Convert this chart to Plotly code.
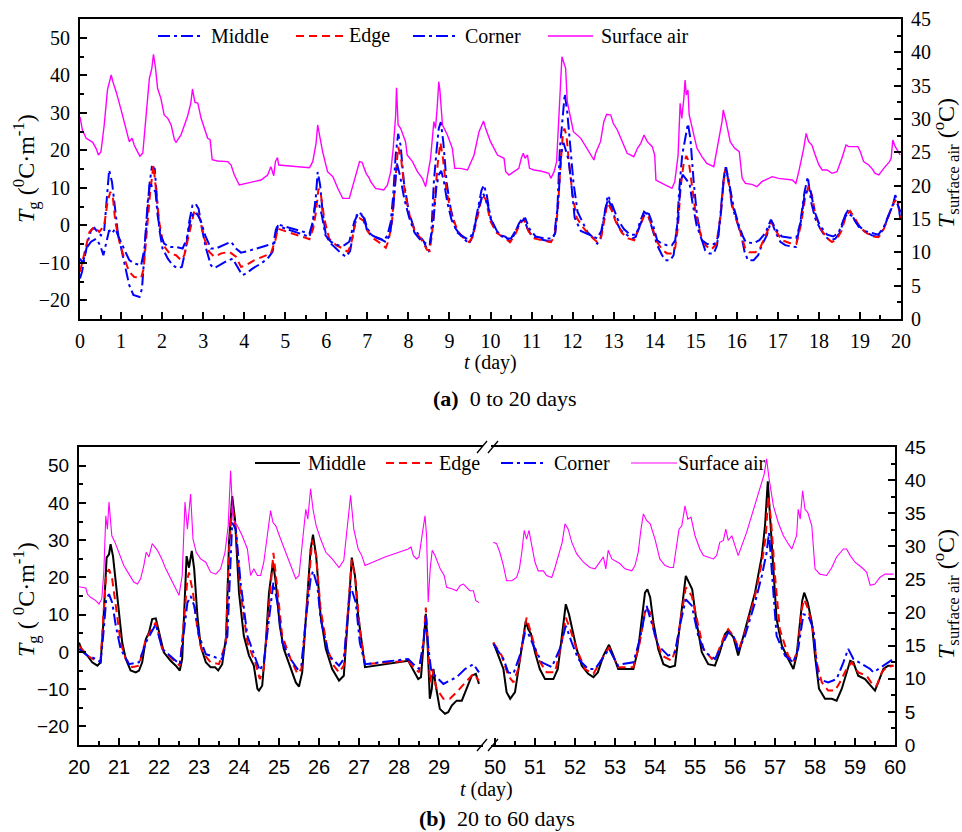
import plotly.graph_objects as go

# ---------------- data: panel (a) 0-20 days (t [day], value) ----------------
a_middle = [(0,-14.2),(0.05,-12.4),(0.1,-9.3),(0.19,-4.4),(0.27,-1.3),(0.35,-0.7),(0.43,-1.8),(0.51,-2.7),(0.59,-1.3),
 (0.65,8.0),(0.71,14.7),(0.78,11.5),(0.84,5.3),(0.92,-1.8),(1.04,-8.0),(1.12,-12.0),(1.20,-16.0),(1.30,-18.6),(1.45,-19.1),
 (1.51,-16.9),(1.57,-8.0),(1.62,0.9),(1.69,10.7),(1.75,15.5),(1.82,15.1),(1.87,8.0),(1.93,-0.9),(2.01,-6.2),(2.14,-8.9),
 (2.26,-10.7),(2.38,-11.5),(2.48,-11.1),(2.58,-6.2),(2.66,0.9),(2.74,5.3),(2.81,5.8),(2.89,4.4),(2.97,-0.9),(3.07,-6.2),
 (3.19,-10.7),(3.27,-11.4),(3.39,-10.7),(3.56,-9.6),(3.72,-8.9),(3.84,-11.1),(3.95,-13.3),(4.04,-12.9),(4.21,-11.5),
 (4.41,-10.2),(4.57,-8.9),(4.69,-7.1),(4.77,-2.7),(4.82,-0.2),(5.59,-3.1),(5.67,0.0),(5.73,5.3),(5.79,14.2),(5.85,10.7),
 (5.91,3.6),(5.99,-2.7),(6.11,-4.9),(6.24,-6.2),(6.36,-7.5),(6.48,-8.4),(6.58,-6.9),(6.66,-1.8),(6.74,2.7),(6.82,3.1),
 (6.93,1.8),(7.0,-0.9),(7.12,-2.7),(7.28,-3.6),(7.41,-4.0),(7.49,-2.7),(7.57,0.9),(7.63,8.0),(7.69,18.7),(7.75,24.4),
 (7.81,21.3),(7.89,11.5),(8.01,3.6),(8.14,-0.9),(8.26,-2.7),(8.38,-4.4),(8.46,-6.7),(8.5,-7.1),(8.56,-1.8),(8.62,11.5),
 (8.69,20.4),(8.74,25.8),(8.79,27.5),(8.85,22.2),(8.93,11.5),(9.03,4.4),(9.15,-0.9),(9.27,-2.7),(9.39,-4.0),(9.48,-4.9),
 (9.56,-3.1),(9.68,3.6),(9.78,9.3),(9.84,10.7),(9.91,8.0),(10.0,1.8),(10.13,-1.3),(10.25,-2.7),(10.37,-3.1),(10.47,-4.4),
 (10.57,-2.7),(10.69,0.4),(10.80,2.2),(10.90,-0.9),(11.02,-3.1),(11.18,-3.6),(11.34,-4.0),(11.47,-4.4),(11.55,-2.7),
 (11.63,4.4),(11.69,20.4),(11.76,30.2),(11.81,35.1),(11.87,30.2),(11.94,22.2),(12.02,11.5),(12.12,3.6),(12.24,0.9),
 (12.36,-1.8),(12.48,-3.1),(12.60,-4.9),(12.68,-3.6),(12.78,2.7),(12.85,7.5),(12.93,5.3),(13.05,1.3),(13.17,-1.3),
 (13.33,-2.7),(13.45,-3.6),(13.54,-3.1),(13.64,0.9),(13.74,3.6),(13.84,2.7),(13.94,-0.9),(14.06,-5.3),(14.18,-8.0),
 (14.26,-9.3),(14.38,-9.3),(14.46,-8.0),(14.54,-0.9),(14.6,9.8),(14.67,18.7),(14.75,24.0),(14.81,27.1),(14.87,23.1),
 (14.95,11.5),(15.03,2.7),(15.14,-3.6),(15.23,-6.7),(15.33,-7.5),(15.44,-7.5),(15.52,-5.3),(15.60,2.7),(15.67,11.5),
 (15.72,15.5),(15.79,12.4),(15.88,5.3),(16.0,0.9),(16.11,-2.7),(16.19,-7.1),(16.27,-9.3),(16.41,-9.3),(16.52,-8.0),
 (16.61,-5.3),(16.73,-2.7),(16.84,1.3),(16.94,-1.8),(17.06,-4.4),(17.18,-5.3),(17.30,-5.6),(17.44,-5.8),(17.55,0.9),
 (17.65,8.9),(17.73,12.9),(17.81,6.2),(17.91,1.8),(18.03,-0.9),(18.16,-3.1),(18.28,-4.0),(18.40,-3.6),(18.52,-1.8),
 (18.64,2.7),(18.73,4.4),(18.85,1.8),(18.97,-0.4),(19.13,-1.8),(19.29,-2.7),(19.44,-3.1),(19.58,-0.9),(19.70,2.7),
 (19.80,5.3),(19.86,8.0),(19.93,6.2),(19.99,0.9)]

a_edge = [(0,-12.4),(0.1,-7.6),(0.23,-1.8),(0.35,-0.4),(0.47,-1.8),(0.59,0.0),(0.67,6.2),(0.74,8.9),(0.80,7.5),(0.86,0.9),
 (0.96,-4.4),(1.08,-8.9),(1.20,-12.4),(1.32,-13.8),(1.49,-14.0),(1.55,-11.6),(1.62,-1.8),(1.71,8.9),(1.79,16.0),(1.85,9.8),
 (1.93,0.9),(2.03,-5.3),(2.18,-7.5),(2.34,-8.0),(2.46,-9.3),(2.54,-8.0),(2.66,-1.8),(2.79,4.0),(2.84,3.6),(2.92,1.8),
 (3.03,-3.6),(3.15,-7.1),(3.27,-8.4),(3.44,-7.5),(3.64,-7.1),(3.80,-8.4),(3.92,-11.1),(4.04,-10.7),(4.25,-9.3),(4.45,-8.4),
 (4.65,-7.5),(4.76,-4.0),(4.82,-0.9),(5.59,-3.7),(5.68,-0.9),(5.75,3.6),(5.81,9.8),(5.87,8.0),(5.95,1.8),(6.07,-3.6),
 (6.24,-5.3),(6.40,-6.2),(6.52,-7.1),(6.60,-5.3),(6.71,0.9),(6.81,1.9),(6.90,1.3),(7.0,-1.5),(7.12,-3.3),(7.28,-4.5),
 (7.45,-6.0),(7.52,-4.0),(7.6,1.0),(7.68,12),(7.75,20.9),(7.82,18),(7.9,10),(8.02,3),(8.15,-1.5),(8.3,-3.5),(8.45,-6.5),
 (8.52,-6.8),(8.58,-2),(8.65,8),(8.72,17),(8.78,22),(8.84,18),(8.93,9),(9.05,3),(9.2,-1.5),(9.35,-3.5),(9.48,-4.5),
 (9.57,-3),(9.7,3),(9.8,8),(9.88,7),(10.0,1),(10.15,-2),(10.35,-3.5),(10.48,-4.5),(10.6,-2.5),(10.72,0.5),(10.82,1.5),
 (10.92,-1.5),(11.05,-3.5),(11.3,-4),(11.47,-4.5),(11.56,-3),(11.64,4),(11.7,15),(11.76,24),(11.8,25.8),(11.85,24),
 (11.9,18),(12.0,8),(12.1,2),(12.25,-0.5),(12.4,-2.5),(12.6,-4.5),(12.7,-3),(12.78,2),(12.85,6),(12.95,4),(13.05,1),
 (13.2,-2),(13.35,-3.5),(13.5,-4),(13.64,0),(13.76,3),(13.86,2),(13.96,-1.5),(14.06,-4.5),(14.18,-6.5),(14.3,-7.5),
 (14.42,-7.5),(14.5,-6),(14.57,0),(14.63,10),(14.7,16),(14.77,18.5),(14.83,17),(14.9,11),(15.0,3),(15.12,-2.5),
 (15.25,-5.5),(15.38,-6.5),(15.5,-5),(15.6,2),(15.67,11),(15.72,15),(15.8,11.5),(15.9,5),(16.02,0.5),(16.12,-3),
 (16.2,-6),(16.3,-7.2),(16.45,-7.2),(16.55,-6.5),(16.65,-4),(16.75,-1.5),(16.85,1),(16.95,-1.5),(17.1,-4),(17.3,-4.8),
 (17.45,-5),(17.56,0),(17.66,7),(17.75,10.5),(17.83,8),(17.92,2.5),(18.05,-1),(18.2,-3.5),(18.32,-4.5),(18.45,-3.5),
 (18.55,-1.5),(18.66,2.5),(18.76,3.8),(18.88,1.8),(19.0,-0.5),(19.15,-2),(19.3,-3),(19.45,-3.2),(19.58,-1),(19.7,2.5),
 (19.82,6),(19.9,7),(19.99,2)]

a_corner = [(0,-8.9),(0.07,-10.2),(0.15,-6.2),(0.27,-4.4),(0.39,-3.6),(0.49,-5.3),(0.57,-8.0),(0.65,-3.6),(0.71,-1.3),
 (0.78,-2.2),(0.86,-0.9),(0.96,-3.6),(1.08,-6.7),(1.20,-9.3),(1.32,-10.2),(1.49,-10.7),(1.57,-6.2),(1.65,6.2),(1.71,11.5),
 (1.77,9.8),(1.84,8.9),(1.89,2.7),(1.97,-2.7),(2.05,-4.9),(2.18,-5.8),(2.34,-5.8),(2.50,-6.2),(2.6,-3.6),(2.70,1.8),
 (2.78,3.6),(2.87,2.7),(2.95,0.9),(3.05,-2.7),(3.19,-6.2),(3.31,-6.2),(3.48,-5.3),(3.68,-4.4),(3.80,-6.2),(3.92,-7.3),
 (4.08,-6.9),(4.29,-6.2),(4.45,-5.8),(4.61,-5.3),(4.71,-4.9),(4.77,-1.3),(4.82,0.2),(5.59,-2.2),(5.67,0.9),(5.73,6.2),
 (5.81,6.2),(5.89,2.7),(5.98,-2.7),(6.11,-4.4),(6.28,-5.3),(6.44,-5.3),(6.56,-4.4),(6.68,0.9),(6.79,3.4),(6.89,2.7),
 (7.0,-1.5),(7.15,-3),(7.3,-3.5),(7.45,-4.5),(7.55,-2.5),(7.62,3),(7.68,12),(7.72,16.5),(7.8,13),(7.9,7),(8.02,2),
 (8.15,-2),(8.3,-4),(8.45,-5),(8.52,-5),(8.6,0),(8.68,10),(8.74,13.5),(8.8,14.5),(8.86,12),(8.95,6),(9.05,1.5),(9.2,-2),
 (9.4,-3.5),(9.5,-3.5),(9.6,-1),(9.72,5),(9.82,8.5),(9.92,6),(10.02,1.5),(10.2,-2.5),(10.4,-3.5),(10.5,-3.5),(10.62,-1.5),
 (10.75,1),(10.85,1.8),(10.95,-1),(11.1,-3),(11.3,-3.5),(11.5,-3.5),(11.58,-2),(11.66,8),(11.72,19),(11.78,22),(11.84,20),
 (11.9,17.5),(11.96,12),(12.05,2),(12.2,-1.5),(12.4,-2.5),(12.6,-3.5),(12.7,-1.5),(12.8,4.5),(12.88,7.5),(12.98,5),
 (13.1,1.5),(13.25,-1),(13.4,-2.5),(13.55,-2.5),(13.68,1),(13.76,3.5),(13.86,3),(13.96,0),(14.06,-4),(14.18,-5),
 (14.3,-5.3),(14.42,-5.3),(14.5,-4),(14.57,2),(14.63,11),(14.68,13.5),(14.75,12.5),(14.85,11),(14.92,6),(15.02,0),
 (15.15,-4),(15.28,-5),(15.45,-5),(15.55,-3),(15.62,4),(15.68,12),(15.74,15.5),(15.82,11),(15.92,5),(16.05,0),(16.15,-3),
 (16.22,-4.5),(16.4,-4.8),(16.55,-4),(16.7,-2),(16.83,1.5),(16.95,-1),(17.1,-3),(17.3,-3.3),(17.45,-3.3),(17.56,1),
 (17.65,8),(17.72,9.5),(17.8,9),(17.9,3.5),(18.02,0),(18.2,-2.5),(18.35,-3),(18.48,-2),(18.6,1.5),(18.7,3.2),(18.8,2.5),
 (18.92,0.5),(19.1,-1.5),(19.3,-2),(19.45,-2.5),(19.58,-0.5),(19.7,3),(19.8,5.5),(19.9,6),(19.99,3.5)]

a_air = [(0,30.3),(0.06,28.3),(0.15,27.1),(0.31,26.5),(0.39,25.6),(0.45,24.6),(0.51,25.1),(0.59,29.1),(0.67,34.4),(0.71,35.6),
 (0.76,36.6),(0.80,35.6),(0.88,34.1),(1.0,31.4),(1.12,28.4),(1.20,26.6),(1.27,27.1),(1.32,26.1),(1.40,25.1),(1.46,24.4),
 (1.53,24.9),(1.61,30.6),(1.69,36.1),(1.75,37.6),(1.79,39.7),(1.84,37.6),(1.89,34.6),(1.97,33.1),(2.05,30.6),(2.14,30.1),
 (2.22,29.1),(2.30,26.9),(2.34,26.5),(2.46,27.6),(2.62,30.4),(2.70,32.4),(2.74,34.5),(2.80,32.5),(2.87,32.4),(2.95,30.1),
 (3.11,27.1),(3.17,26.9),(3.22,23.9),(3.35,23.7),(3.48,23.6),(3.60,23.6),(3.68,23.1),(3.76,21.6),(3.88,20.1),(4.04,20.35),
 (4.21,20.6),(4.41,20.85),(4.57,21.6),(4.65,22.85),(4.72,21.5),(4.76,23.6),(4.81,24.2),(4.84,23.1),(5.59,22.7),(5.67,23.6),
 (5.75,26.35),(5.79,29.1),(5.85,27.1),(5.91,25.1),(6.03,22.1),(6.16,21.35),(6.28,19.6),(6.40,18.1),(6.56,18.1),(6.68,20.6),
 (6.81,23.6),(6.87,23.5),(6.97,21.85),(7.05,21.1),(7.08,20.6),(7.20,19.6),(7.40,19.35),(7.49,20.1),(7.57,22.1),(7.63,25.6),
 (7.69,30.6),(7.71,34.7),(7.75,29.1),(7.81,28.6),(7.88,27.6),(7.93,26.6),(7.97,24.6),(8.10,23.6),(8.22,22.1),(8.34,21.1),
 (8.42,19.85),(8.54,24.1),(8.62,29.6),(8.66,28.6),(8.70,31.6),(8.74,35.6),(8.77,34.1),(8.80,30.6),(8.83,29.1),(8.95,27.6),
 (9.07,25.6),(9.13,22.6),(9.27,22.6),(9.44,22.35),(9.60,24.6),(9.72,28.1),(9.83,29.7),(9.88,28.6),(10.0,26.6),(10.17,24.6),
 (10.33,24.1),(10.37,22.1),(10.45,21.6),(10.57,22.1),(10.69,22.6),(10.75,24.1),(10.80,24.85),(10.84,24.1),(10.90,24.6),
 (10.95,22.6),(11.06,22.35),(11.22,22.2),(11.42,21.85),(11.47,21.1),(11.55,22.1),(11.61,23.6),(11.67,30.6),(11.71,36.6),
 (11.74,39.35),(11.79,38.35),(11.83,37.6),(11.87,32.6),(11.95,30.1),(12.02,28.1),(12.20,27.1),(12.52,23.85),(12.56,24.85),
 (12.68,26.6),(12.76,29.6),(12.83,30.7),(12.93,30.6),(12.99,29.35),(13.09,28.35),(13.21,26.6),(13.33,24.85),(13.49,24.35),
 (13.58,25.6),(13.66,26.35),(13.74,27.6),(13.82,26.6),(13.94,25.85),(14.0,24.6),(14.03,20.85),(14.10,20.6),(14.26,20.1),
 (14.42,19.6),(14.49,20.6),(14.57,24.6),(14.62,32.35),(14.66,30.1),(14.71,33.1),(14.74,35.85),(14.77,33.6),(14.81,34.35),
 (14.84,30.6),(14.91,28.6),(15.03,25.6),(15.15,24.35),(15.27,23.35),(15.44,22.85),(15.56,26.6),(15.64,29.6),(15.67,31.35),
 (15.74,29.6),(15.84,26.6),(15.95,25.6),(16.06,25.1),(16.13,21.1),(16.21,20.35),(16.37,20.2),(16.49,19.85),(16.61,20.6),
 (16.78,21.1),(16.86,21.35),(17.02,21.1),(17.18,21.0),(17.35,20.85),(17.44,20.35),(17.51,22.1),(17.63,25.6),(17.69,27.85),
 (17.75,26.6),(17.83,26.1),(17.91,24.6),(18.0,23.1),(18.08,22.35),(18.2,22.35),(18.32,21.85),(18.44,22.1),(18.56,24.1),
 (18.66,26.1),(18.72,25.85),(18.85,25.85),(18.95,25.85),(19.01,25.1),(19.09,23.6),(19.21,23.1),(19.29,22.6),(19.37,21.85),
 (19.46,21.6),(19.58,22.6),(19.72,23.6),(19.76,24.1),(19.80,26.85),(19.86,25.85),(19.98,24.6)]

# ---------------- data: panel (b) 20-30 days ----------------
b1_middle = [(20,2.5),(20.08,0.3),(20.21,-1.0),(20.33,-2.8),(20.46,-3.7),(20.54,-2.8),(20.6,6.1),(20.65,18.6),(20.69,25.3),
 (20.75,26.2),(20.79,28.9),(20.85,25.7),(20.92,18.6),(21.0,8.8),(21.08,2.5),(21.17,-1.9),(21.29,-5.0),(21.42,-5.5),(21.5,-5.0),
 (21.58,-2.8),(21.67,3.4),(21.75,5.2),(21.83,8.8),(21.92,9.0),(22.0,5.2),(22.12,-0.1),(22.29,-2.4),(22.42,-3.7),(22.52,-5.0),
 (22.58,-1.9),(22.64,13.2),(22.69,25.7),(22.75,22.6),(22.82,27.1),(22.88,22.2),(22.96,9.7),(23.04,1.7),(23.17,-2.8),
 (23.29,-4.1),(23.4,-4.1),(23.48,-5.0),(23.58,-3.3),(23.68,4.3),(23.75,29.3),(23.83,41.8),(23.9,35.5),(24.0,15.9),(24.12,4.3),
 (24.25,-1.0),(24.37,-3.7),(24.46,-9.9),(24.5,-10.4),(24.58,-9.1),(24.67,2.5),(24.75,15.9),(24.85,24.0),(24.92,18.6),
 (25.02,7.0),(25.12,0.8),(25.29,-4.6),(25.42,-8.2),(25.5,-9.3),(25.58,-5.5),(25.67,8.8),(25.73,19.5),(25.79,27.5),
 (25.85,31.5),(25.93,25.7),(26.04,9.7),(26.17,0.8),(26.33,-4.6),(26.5,-7.7),(26.62,-6.4),(26.71,6.1),(26.77,16.8),
 (26.82,25.3),(26.9,20.4),(26.98,9.7),(27.07,2.5),(27.15,-4.1),(28.23,-2.4),(28.36,-5.0),(28.48,-7.3),(28.55,-6.8),
 (28.61,0.8),(28.67,10.2),(28.72,0.8),(28.77,-12.6),(28.82,-9.9),(28.86,-4.6),(28.92,-9.1),(29.02,-15.3),(29.15,-16.6),
 (29.23,-16.2),(29.32,-14.4),(29.44,-13.1),(29.57,-13.1),(29.69,-9.9),(29.82,-6.4),(29.92,-5.9),(30.0,-8.6)]

b1_edge = [(20,1.7),(20.21,-1.0),(20.42,-2.4),(20.54,-2.4),(20.62,11.5),(20.68,20.8),(20.75,22.2),(20.83,19.5),(20.92,12.4),
 (21.04,2.5),(21.17,-1.9),(21.33,-4.1),(21.5,-3.7),(21.67,3.4),(21.92,7.9),(22.08,0.8),(22.33,-1.9),(22.52,-3.7),(22.62,7.9),
 (22.71,19.5),(22.75,21.3),(22.85,15.9),(22.96,6.1),(23.08,-0.1),(23.29,-2.8),(23.5,-3.3),(23.67,2.5),(23.75,26.6),
 (23.83,39.6),(23.92,32.9),(24.04,15.9),(24.21,2.5),(24.42,-3.3),(24.52,-7.3),(24.62,-4.6),(24.75,13.3),(24.86,26.6),
 (24.96,16.8),(25.08,4.3),(25.29,-1.9),(25.46,-5.9),(25.56,-4.6),(25.68,9.7),(25.83,30.1),(25.93,25.7),(26.04,11.5),
 (26.21,0.8),(26.37,-3.7),(26.5,-5.5),(26.62,-3.7),(26.82,24.8),(26.92,18.6),(27.02,6.1),(27.15,-3.3),(28.23,-2.4),
 (28.36,-4.1),(28.5,-5.5),(28.61,2.5),(28.67,11.9),(28.73,0.8),(28.78,-8.2),(28.83,-4.6),(28.94,-9.9),(29.11,-12.6),
 (29.27,-12.6),(29.44,-10.8),(29.65,-8.2),(29.86,-5.9),(30.0,-7.7)]

b1_corner = [(20,0.8),(20.21,-1.0),(20.42,-1.9),(20.54,-2.8),(20.62,6.1),(20.68,14.1),(20.75,15.5),(20.83,13.2),(20.92,7.0),
 (21.04,0.8),(21.25,-3.3),(21.5,-2.8),(21.67,2.5),(21.92,7.4),(22.08,0.8),(22.37,-1.9),(22.52,-3.3),(22.62,5.2),(22.71,13.2),
 (22.79,15.0),(22.88,12.4),(23.0,4.3),(23.17,-0.6),(23.42,-1.5),(23.58,-1.9),(23.71,4.3),(23.77,20.4),(23.83,34.7),
 (23.92,32.9),(24.04,18.6),(24.21,4.3),(24.42,-1.9),(24.52,-5.0),(24.62,-2.8),(24.75,9.7),(24.86,18.6),(24.96,13.2),
 (25.08,2.5),(25.29,-1.9),(25.46,-4.6),(25.56,-3.7),(25.68,9.7),(25.79,19.5),(25.85,21.7),(25.96,17.7),(26.04,8.8),
 (26.25,-1.0),(26.5,-3.7),(26.62,-1.9),(26.79,17.7),(26.92,13.2),(27.02,2.5),(27.15,-3.3),(28.23,-1.9),(28.36,-3.3),
 (28.5,-4.6),(28.61,2.5),(28.67,9.7),(28.73,1.7),(28.8,-4.6),(28.9,-6.4),(29.11,-8.6),(29.27,-7.7),(29.44,-6.8),
 (29.65,-4.6),(29.86,-3.3),(30.0,-5.5)]

b1_air = [(20,23.9),(20.08,23.8),(20.17,23.7),(20.21,22.8),(20.29,22.3),(20.42,21.8),(20.5,21.3),(20.57,22.1),(20.62,26.1),
 (20.67,34.6),(20.71,32.6),(20.75,36.7),(20.82,31.6),(20.9,30.6),(21.0,29.1),(21.12,27.1),(21.25,25.8),(21.37,24.6),
 (21.46,24.3),(21.54,25.1),(21.62,27.1),(21.68,29.1),(21.75,28.4),(21.83,30.4),(21.96,29.4),(22.07,28.1),(22.17,26.6),
 (22.29,25.1),(22.4,23.6),(22.5,22.6),(22.58,25.6),(22.65,36.7),(22.71,32.6),(22.79,37.9),(22.85,31.1),(22.93,29.1),
 (23.04,28.1),(23.17,27.6),(23.29,26.1),(23.42,25.8),(23.54,26.6),(23.65,29.1),(23.73,33.1),(23.79,41.4),(23.85,34.1),
 (23.96,33.1),(24.08,31.6),(24.21,29.6),(24.29,25.6),(24.37,26.6),(24.46,25.6),(24.54,25.6),(24.62,27.6),(24.71,31.6),
 (24.79,35.4),(24.85,33.6),(24.92,33.1),(25.04,31.1),(25.17,29.1),(25.29,27.1),(25.42,25.1),(25.5,25.6),(25.58,30.6),
 (25.67,35.6),(25.72,34.1),(25.79,38.7),(25.85,35.6),(25.93,33.1),(26.04,31.1),(26.17,29.1),(26.33,28.1),(26.5,26.8),
 (26.62,27.9),(26.71,33.1),(26.79,37.7),(26.87,32.6),(26.98,29.6),(27.07,28.6),(27.15,27.1),(27.65,28.4),(28.23,29.6),
 (28.3,29.9),(28.36,28.6),(28.44,28.1),(28.5,28.4),(28.57,31.4),(28.65,34.6),(28.69,31.6),(28.73,21.6),(28.78,26.6),
 (28.83,29.4),(28.9,28.6),(29.03,26.6),(29.13,25.6),(29.19,23.8),(29.32,23.6),(29.44,23.3),(29.53,24.1),(29.61,24.3),
 (29.69,23.8),(29.77,23.3),(29.86,23.3),(29.92,21.8),(30.0,21.5)]

# ---------------- data: panel (b) 50-60 days ----------------
b2_middle = [(49.96,2.5),(50.08,-1.0),(50.21,-4.6),(50.29,-10.8),(50.38,-12.6),(50.5,-10.8),(50.62,-1.9),(50.71,5.2),
 (50.77,8.3),(50.83,6.1),(50.9,4.8),(51.0,-0.1),(51.12,-4.6),(51.25,-7.3),(51.46,-7.3),(51.57,-4.6),(51.65,2.5),(51.71,7.9),
 (51.77,12.8),(51.85,10.1),(51.93,6.1),(52.04,0.8),(52.17,-3.7),(52.33,-5.9),(52.46,-6.8),(52.57,-5.5),(52.71,-1.0),
 (52.85,1.9),(52.96,-1.0),(53.08,-4.6),(53.29,-4.6),(53.46,-4.6),(53.58,0.8),(53.67,9.7),(53.75,15.9),(53.81,16.8),
 (53.88,14.6),(53.96,7.9),(54.08,0.8),(54.21,-3.3),(54.37,-4.1),(54.5,-3.7),(54.6,5.2),(54.67,11.5),(54.77,20.4),
 (54.85,18.6),(54.93,16.8),(55.04,7.9),(55.17,-0.1),(55.33,-3.3),(55.5,-3.7),(55.62,-0.1),(55.75,4.8),(55.83,5.7),
 (55.96,3.9),(56.08,-1.0),(56.21,4.3),(56.33,8.8),(56.5,15.9),(56.67,25.7),(56.75,33.8),(56.82,45.8),(56.87,38.2),
 (56.96,22.2),(57.04,8.8),(57.17,1.7),(57.33,-1.9),(57.46,-4.6),(57.54,-1.0),(57.62,7.9),(57.68,13.7),(57.73,15.9),
 (57.82,13.2),(57.92,7.9),(58.0,-1.0),(58.1,-9.9),(58.25,-12.6),(58.42,-12.6),(58.54,-13.1),(58.67,-9.9),(58.79,-5.5),
 (58.88,-2.4),(58.96,-2.8),(59.08,-6.4),(59.25,-7.3),(59.42,-9.5),(59.5,-10.4),(59.58,-8.2),(59.71,-4.6),(59.83,-3.7),
 (59.96,-3.7)]

b2_edge = [(49.96,2.5),(50.17,-1.0),(50.33,-6.4),(50.46,-8.2),(50.58,-4.6),(50.75,6.1),(50.79,9.2),(50.92,4.3),(51.08,-1.9),
 (51.29,-5.5),(51.5,-5.5),(51.67,2.5),(51.77,9.2),(51.88,6.1),(52.04,0.8),(52.25,-4.6),(52.46,-5.9),(52.67,-1.9),(52.85,1.2),
 (53.08,-4.1),(53.17,-4.1),(53.46,-4.1),(53.62,2.5),(53.77,11.9),(53.88,10.6),(54.0,4.3),(54.17,-1.0),(54.42,-2.4),
 (54.54,1.7),(54.67,10.6),(54.77,17.3),(54.92,15.0),(55.04,8.8),(55.21,0.8),(55.42,-1.9),(55.54,-1.0),(55.75,4.8),
 (55.83,6.1),(55.96,4.3),(56.1,0.8),(56.25,5.2),(56.5,15.0),(56.67,23.9),(56.77,31.0),(56.83,41.8),(56.9,35.5),(57.0,20.4),
 (57.12,6.1),(57.33,-1.0),(57.46,-2.8),(57.57,0.8),(57.67,11.5),(57.73,14.1),(57.83,11.5),(57.96,5.2),(58.04,-2.8),
 (58.17,-8.2),(58.33,-10.4),(58.5,-10.4),(58.62,-8.2),(58.79,-4.6),(58.92,-2.8),(59.08,-5.5),(59.29,-6.4),(59.46,-9.1),
 (59.54,-9.1),(59.67,-5.5),(59.79,-4.1),(59.96,-3.7)]

b2_corner = [(49.96,2.1),(50.21,-1.9),(50.33,-5.5),(50.46,-5.9),(50.62,-1.0),(50.75,5.2),(50.82,5.2),(50.96,1.7),(51.17,-2.8),
 (51.42,-4.1),(51.62,0.8),(51.77,7.0),(51.92,2.5),(52.08,-1.9),(52.33,-4.6),(52.5,-4.6),(52.71,-1.5),(52.85,0.8),(53.08,-3.7),
 (53.17,-3.3),(53.46,-2.8),(53.62,3.4),(53.79,12.4),(53.92,7.9),(54.08,1.7),(54.33,-1.0),(54.5,-0.1),(54.62,7.0),(54.77,14.1),
 (54.92,12.4),(55.08,4.3),(55.25,-0.1),(55.5,-1.9),(55.67,1.7),(55.83,5.2),(55.96,4.3),(56.08,0.3),(56.25,4.3),(56.5,13.2),
 (56.67,20.4),(56.79,26.6),(56.85,32.0),(56.9,25.7),(56.96,15.9),(57.04,4.3),(57.25,-1.0),(57.46,-2.8),(57.58,0.8),
 (57.71,10.1),(57.83,9.7),(57.96,6.1),(58.08,-7.3),(58.33,-8.2),(58.54,-7.3),(58.71,-2.8),(58.83,0.8),(58.96,-1.9),
 (59.17,-3.3),(59.38,-4.6),(59.46,-5.5),(59.58,-4.6),(59.75,-3.3),(59.96,-1.9)]

b2_air = [(49.96,30.6),(50.04,30.4),(50.12,29.1),(50.21,27.1),(50.29,24.8),(50.42,24.8),(50.54,25.3),(50.61,26.6),(50.67,29.1),
 (50.73,32.4),(50.79,31.1),(50.85,32.4),(50.92,30.1),(51.0,27.6),(51.08,26.3),(51.21,26.3),(51.29,25.6),(51.42,25.3),
 (51.5,26.8),(51.58,28.6),(51.68,30.6),(51.75,33.4),(51.83,32.6),(51.92,30.6),(52.04,28.9),(52.21,27.6),(52.37,26.8),
 (52.5,26.6),(52.62,27.6),(52.71,28.4),(52.77,26.6),(52.83,29.4),(52.92,28.1),(53.04,27.6),(53.12,27.4),(53.25,26.6),
 (53.42,26.3),(53.5,27.1),(53.58,29.1),(53.65,32.6),(53.71,34.9),(53.79,33.9),(53.88,33.4),(54.0,31.1),(54.12,28.1),
 (54.25,27.1),(54.38,26.8),(54.46,26.8),(54.54,30.1),(54.6,32.6),(54.67,33.1),(54.75,36.1),(54.82,34.1),(54.9,34.4),
 (55.0,31.6),(55.12,29.6),(55.21,28.6),(55.33,28.4),(55.46,28.1),(55.54,28.6),(55.62,30.6),(55.71,30.9),(55.77,32.6),
 (55.83,30.9),(55.92,31.6),(56.0,30.1),(56.08,28.6),(56.29,32.1),(56.5,36.1),(56.67,39.7),(56.73,40.9),(56.79,43.2),
 (56.85,40.3),(56.96,36.1),(57.08,33.6),(57.21,31.6),(57.33,30.4),(57.42,29.6),(57.54,31.6),(57.58,35.6),(57.63,34.1),
 (57.69,38.4),(57.75,35.6),(57.82,35.1),(57.92,33.1),(58.0,26.6),(58.12,25.8),(58.29,25.6),(58.42,26.8),(58.54,28.4),
 (58.71,29.6),(58.79,29.6),(58.88,28.6),(59.0,27.6),(59.17,26.8),(59.29,26.1),(59.38,24.1),(59.5,24.3),(59.62,25.3),
 (59.75,25.8),(59.96,25.8)]

series_names = ["Middle", "Edge", "Corner", "Surface air"]
xticks_b_left = list(range(20, 30))
xticks_b_right = list(range(50, 61))

# ---------------- styling ----------------
W, H = 962, 832
BLUE, RED, MAG, BLACK = "#0000FF", "#FF0000", "#FF00FF", "#000000"
DASHDOT = "12px,4px,3px,4px"
DASH = "8px,5px"
SERIF = "Liberation Serif, Times New Roman, serif"
SANS = "Liberation Sans, Arial, sans-serif"
NARROW = "Liberation Sans Narrow, Arial Narrow, Liberation Sans, sans-serif"

def px(x):
    return x / W

def py(y):
    return 1 - y / H

def xy(pairs):
    return [p[0] for p in pairs], [p[1] for p in pairs]

fig = go.Figure()

def add(pairs, xa, ya, color, dash, width, name):
    x, y = xy(pairs)
    fig.add_trace(go.Scatter(x=x, y=y, mode="lines", xaxis=xa, yaxis=ya, name=name, showlegend=False,
                             line=dict(color=color, dash=dash, width=width)))

# panel a
add(a_middle, "x", "y", BLUE, DASHDOT, 2, series_names[0])
add(a_edge, "x", "y", RED, DASH, 2, series_names[1])
add(a_corner, "x", "y", BLUE, DASHDOT, 2, series_names[2])
add(a_air, "x", "y2", MAG, "solid", 1.4, series_names[3])
# panel b
for seg_i, xa in ((0, "x2"), (1, "x3")):
    add((b1_middle, b2_middle)[seg_i], xa, "y3", BLACK, "solid", 2, series_names[0])
    add((b1_edge, b2_edge)[seg_i], xa, "y3", RED, DASH, 2, series_names[1])
    add((b1_corner, b2_corner)[seg_i], xa, "y3", BLUE, DASHDOT, 2, series_names[2])
    add((b1_air, b2_air)[seg_i], xa, "y4", MAG, "solid", 1.1, series_names[3])

tick_common = dict(ticks="inside", ticklen=7, tickwidth=1.5, tickcolor="black", showline=True, linecolor="black",
                   linewidth=2, showgrid=False, zeroline=False, automargin=False)

def minor(**kw):
    d = dict(ticks="inside", ticklen=4, tickwidth=1.5, tickcolor="black")
    d.update(kw)
    return d

ya_dom = [py(319), py(19)]
yb_dom = [py(745), py(447)]

fig.update_layout(
    template="none",
    width=W, height=H, margin=dict(l=0, r=0, t=0, b=0, pad=0), autosize=False,
    paper_bgcolor="white", plot_bgcolor="white", showlegend=False,
    font=dict(family=SERIF, size=20, color="black"),
    xaxis=dict(domain=[px(80), px(901)], range=[0, 20], anchor="y", dtick=1, tick0=0, mirror=True,
               minor=minor(dtick=0.5), tickfont=dict(family=SERIF, size=20, color="black"),
               ticklabelstandoff=3, **tick_common),
    yaxis=dict(domain=ya_dom, range=[-25, 55], anchor="x", dtick=10, tick0=0, minor=minor(dtick=5),
               tickfont=dict(family=SERIF, size=20, color="black"), ticklabelstandoff=4, **tick_common),
    yaxis2=dict(range=[0, 45], overlaying="y", side="right", anchor="x", dtick=5, tick0=0, minor=minor(dtick=2.5),
                tickfont=dict(family=SERIF, size=20, color="black"), ticklabelstandoff=4, **tick_common),
    xaxis2=dict(domain=[px(79), px(483)], range=[20, 30.1], anchor="y3", tickmode="array", tickvals=xticks_b_left,
                mirror=True, minor=minor(tickmode="array", tickvals=[v + 0.5 for v in xticks_b_left]),
                tickfont=dict(family=NARROW, size=20, color="black"), ticklabelstandoff=3, **tick_common),
    xaxis3=dict(domain=[px(491), px(895)], range=[49.9, 60], anchor="y3", tickmode="array", tickvals=xticks_b_right,
                mirror=True, minor=minor(tickmode="array", tickvals=[v + 0.5 for v in xticks_b_right[:-1]]),
                tickfont=dict(family=NARROW, size=20, color="black"), ticklabelstandoff=3, **tick_common),
    yaxis3=dict(domain=yb_dom, range=[-25, 55], anchor="x2", dtick=10, tick0=0, minor=minor(dtick=5),
                tickfont=dict(family=SANS, size=19, color="black"), ticklabelstandoff=4, **tick_common),
    yaxis4=dict(range=[0, 45], overlaying="y3", side="right", anchor="x3", dtick=5, tick0=0, minor=minor(dtick=2.5),
                tickfont=dict(family=SANS, size=19, color="black"), ticklabelstandoff=4, **tick_common),
)

ann = []
def text(x, y, s, size=20, family=SERIF, angle=0, xanchor="center"):
    ann.append(dict(x=px(x), y=py(y), xref="paper", yref="paper", text=s, showarrow=False, textangle=angle,
                    xanchor=xanchor, yanchor="middle", font=dict(family=family, size=size, color="black")))

ytitle_l = "<i>T</i><sub>g</sub> (<sup>0</sup>C·m<sup>-1</sup>)"
ytitle_r = "<i>T</i><sub>surface air</sub> (<sup>o</sup>C)"
text(26, 169, ytitle_l, 24, angle=-90)
text(946, 163, ytitle_r, 24, angle=-90)
text(490, 362, "<i>t</i> (day)", 20)
text(505, 398, "<b>(a)</b>  0 to 20 days", 22)
text(26, 600, "<i>T</i><sub>g</sub> ( <sup>0</sup>C·m<sup>-1</sup>)", 24, angle=-90)
text(946, 594, ytitle_r, 24, angle=-90)
text(487, 789, "<i>t</i> (day)", 20)
text(497, 818, "<b>(b)</b>  20 to 60 days", 22)

shapes = []
def seg(x0, y0, x1, y1, color, dash="solid", width=2):
    shapes.append(dict(type="line", xref="paper", yref="paper", x0=px(x0), y0=py(y0), x1=px(x1), y1=py(y1),
                       line=dict(color=color, dash=dash, width=width)))

# legend panel a
leg_a = [(158, 204, 209, BLUE, DASHDOT), (296, 343, 347, RED, DASH), (413, 459, 463, BLUE, DASHDOT),
         (548, 593, 599, MAG, "solid")]
for (l0, l1, tx, c, d), nm in zip(leg_a, series_names):
    seg(l0, 36, l1, 36, c, d, 2 if c != MAG else 1.5)
    text(tx, 36, nm, 20, xanchor="left")
# legend panel b
leg_b = [(255, 300, 306, BLACK, "solid"), (386, 432, 437, RED, DASH), (501, 543, 552, BLUE, DASHDOT),
         (631, 677, 676, MAG, "solid")]
for (l0, l1, tx, c, d), nm in zip(leg_b, series_names):
    seg(l0, 463, l1, 463, c, d, 2 if c != MAG else 1.2)
    text(tx, 463, nm, 20, xanchor="left")

# axis break marks
for yb in (447, 745):
    seg(477, yb + 6, 487, yb - 6, BLACK, width=1.3)
    seg(488, yb + 6, 498, yb - 6, BLACK, width=1.3)

fig.update_layout(annotations=ann, shapes=shapes)
fig.write_html("out.html", config={"displayModeBar": False},
               post_script="document.body.style.margin='0';document.body.style.overflow='hidden';")
